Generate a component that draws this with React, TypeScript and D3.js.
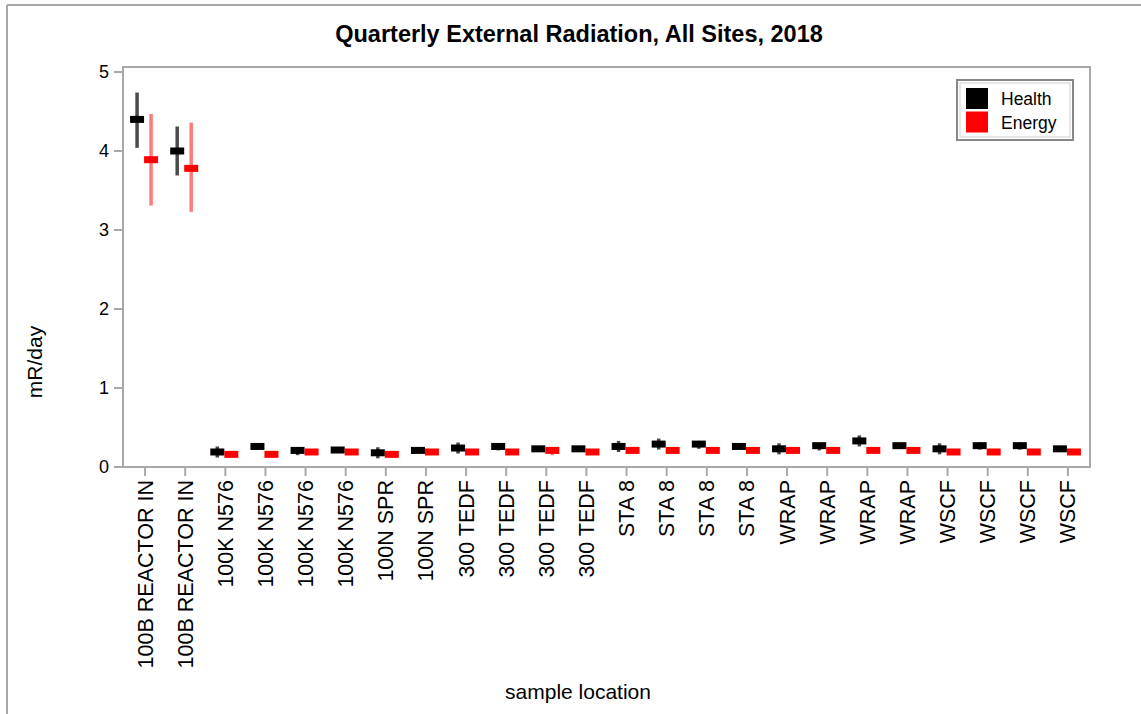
import React from "react";
import * as d3 from "d3";

const categories = [
  "100B REACTOR IN", "100B REACTOR IN",
  "100K N576", "100K N576", "100K N576", "100K N576",
  "100N SPR", "100N SPR",
  "300 TEDF", "300 TEDF", "300 TEDF", "300 TEDF",
  "STA 8", "STA 8", "STA 8", "STA 8",
  "WRAP", "WRAP", "WRAP", "WRAP",
  "WSCF", "WSCF", "WSCF", "WSCF",
];

const healthMean = [4.40, 4.00, 0.19, 0.26, 0.21, 0.215, 0.18, 0.21, 0.24, 0.26, 0.23, 0.23, 0.26, 0.29, 0.29, 0.26, 0.23, 0.27, 0.33, 0.27, 0.23, 0.27, 0.27, 0.23];
const healthLow = [4.04, 3.69, 0.12, 0.23, 0.15, 0.19, 0.11, 0.18, 0.17, 0.21, 0.20, 0.20, 0.19, 0.22, 0.23, 0.23, 0.16, 0.21, 0.26, 0.24, 0.16, 0.22, 0.22, 0.20];
const healthHigh = [4.74, 4.31, 0.26, 0.29, 0.25, 0.24, 0.25, 0.24, 0.31, 0.29, 0.26, 0.26, 0.33, 0.36, 0.33, 0.29, 0.30, 0.30, 0.40, 0.30, 0.30, 0.31, 0.31, 0.26];

const energyMean = [3.89, 3.78, 0.16, 0.16, 0.19, 0.19, 0.16, 0.19, 0.19, 0.19, 0.21, 0.19, 0.21, 0.21, 0.21, 0.21, 0.21, 0.21, 0.21, 0.21, 0.19, 0.19, 0.19, 0.19];
const energyLow = [3.31, 3.23, 0.14, 0.14, 0.17, 0.17, 0.14, 0.17, 0.17, 0.17, 0.15, 0.17, 0.19, 0.19, 0.19, 0.19, 0.19, 0.19, 0.19, 0.19, 0.17, 0.17, 0.17, 0.17];
const energyHigh = [4.47, 4.36, 0.18, 0.18, 0.21, 0.21, 0.18, 0.21, 0.21, 0.21, 0.23, 0.21, 0.23, 0.23, 0.23, 0.23, 0.23, 0.23, 0.23, 0.23, 0.21, 0.21, 0.21, 0.21];

const yTicks = [0, 1, 2, 3, 4, 5];
const seriesNames = ["Health", "Energy"];

const FONT = "'Liberation Sans', Arial, sans-serif";

export default function App() {
  const W = 1141, H = 714;
  const left = 123, right = 1090, top = 67, bottom = 467;
  const x = d3.scalePoint<number>().domain(d3.range(categories.length)).range([left, right]).padding(0.55);
  const y = d3.scaleLinear().domain([0, 5]).range([bottom, 72]);

  const series = [
    { name: seriesNames[0], mean: healthMean, lo: healthLow, hi: healthHigh, off: -8, fill: "#000000", err: "#4a4a4a" },
    { name: seriesNames[1], mean: energyMean, lo: energyLow, hi: energyHigh, off: 6, fill: "#ff0000", err: "#ff7a7a" },
  ];
  const mw = 14, mh = 7;

  return (
    <svg width={W} height={H} style={{ position: "absolute", left: 0, top: 0, background: "#fff" }} fontFamily={FONT}>
      <rect x={0} y={0} width={W} height={H} fill="#fff" />
      {/* outer frame */}
      <line x1={7} y1={5} x2={7} y2={H} stroke="#a8a8a8" strokeWidth={2} />
      <line x1={7} y1={5} x2={W} y2={5} stroke="#a8a8a8" strokeWidth={2} />

      <text x={579} y={42} textAnchor="middle" fontSize={23.5} fontWeight="bold" fill="#000">
        Quarterly External Radiation, All Sites, 2018
      </text>

      {/* plot frame */}
      <rect x={left} y={top} width={right - left} height={bottom - top} fill="none" stroke="#a8a8a8" strokeWidth={2} />

      {/* y axis */}
      {yTicks.map((t) => (
        <g key={t}>
          <line x1={left - 9} x2={left} y1={y(t)} y2={y(t)} stroke="#a8a8a8" strokeWidth={2} />
          <text x={109} y={y(t)} dy="0.35em" textAnchor="end" fontSize={18} fill="#000">{t}</text>
        </g>
      ))}
      <text transform={`translate(42,362) rotate(-90)`} textAnchor="middle" fontSize={21} fill="#000">mR/day</text>

      {/* x axis */}
      {categories.map((c, i) => (
        <g key={i}>
          <line x1={x(i)} x2={x(i)} y1={bottom} y2={bottom + 9} stroke="#a8a8a8" strokeWidth={2} />
          <text transform={`translate(${x(i)},480) rotate(-90)`} dy="0.35em" textAnchor="end" fontSize={21.5} fill="#000">{c}</text>
        </g>
      ))}
      <text x={578} y={699} textAnchor="middle" fontSize={21} fill="#000">sample location</text>

      {/* error bars and markers */}
      {series.map((s) => (
        <g key={s.name}>
          {s.mean.map((m, i) => (
            <line key={"e" + i} x1={x(i)! + s.off} x2={x(i)! + s.off} y1={y(s.lo[i])} y2={y(s.hi[i])} stroke={s.err} strokeWidth={3.5} />
          ))}
          {s.mean.map((m, i) => (
            <rect key={"m" + i} x={x(i)! + s.off - mw / 2} y={y(m) - mh / 2} width={mw} height={mh} fill={s.fill} />
          ))}
        </g>
      ))}

      {/* legend */}
      <rect x={957} y={80} width={116} height={60} fill="#fff" stroke="#888" strokeWidth={2} />
      <rect x={960} y={83} width={110} height={54} fill="none" stroke="#d0d0d0" strokeWidth={1} />
      {series.map((s, i) => (
        <g key={s.name}>
          <rect x={966} y={88 + i * 23.5} width={22} height={21} fill={s.fill} />
          <text x={1001} y={105 + i * 23.5} fontSize={17.5} fill="#000">{s.name}</text>
        </g>
      ))}
    </svg>
  );
}
